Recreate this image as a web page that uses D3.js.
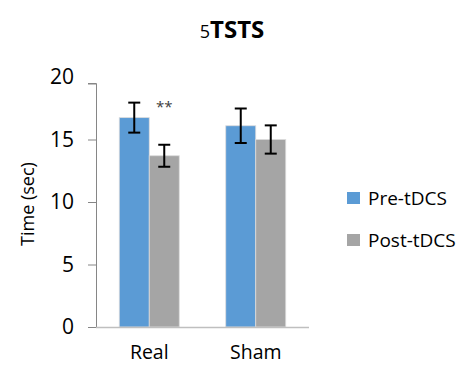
<!DOCTYPE html>
<html><head><meta charset="utf-8">
<script src="https://cdn.jsdelivr.net/npm/d3@7"></script>
<style>body{margin:0;background:#fff}text{font-family:"Open Sans","Noto Sans",sans-serif}</style>
</head><body>
<svg id="c" width="464" height="366"></svg>
<script>
const categories = ["Real", "Sham"];
const seriesNames = ["Pre-tDCS", "Post-tDCS"];
const preValues = [16.75, 16.1];
const postValues = [13.7, 15.0];
const preErrors = [1.2, 1.38];
const postErrors = [0.88, 1.13];
const yTicks = [0, 5, 10, 15, 20];
const colors = ["#5b9bd5", "#a5a5a5"];

const svg = d3.select("#c");
const x = d3.scaleBand().domain(categories).range([96, 309]).paddingInner(0).paddingOuter(0);
const xs = d3.scaleBand().domain(seriesNames).range([0, 60]);
const y = d3.scaleLinear().domain([0, 20]).range([327, 77]);

// y axis
const ya = svg.append("g").attr("transform", "translate(96,0)")
  .call(d3.axisLeft(y).tickValues(yTicks).tickSize(8).tickPadding(14).tickFormat(d3.format("d")));
ya.selectAll("path,line").attr("stroke", "#868686");
ya.select(".domain").attr("d", "M-8,83.5H0.5V327.5");
ya.selectAll(".tick").filter(d => d === 20).select("line").attr("y1", 6.5).attr("y2", 6.5);
ya.selectAll("text").attr("font-size", 21).attr("fill", "#000");

// bars
const data = categories.map((c, i) => ({c, vals: [
  {s: seriesNames[0], v: preValues[i], e: preErrors[i]},
  {s: seriesNames[1], v: postValues[i], e: postErrors[i]}]}));
const g = svg.append("g").selectAll("g").data(data).join("g")
  .attr("transform", d => `translate(${x(d.c) + x.bandwidth()/2 - 30},0)`);
g.selectAll("rect").data(d => d.vals).join("rect")
  .attr("x", d => xs(d.s)).attr("width", xs.bandwidth())
  .attr("y", d => y(d.v)).attr("height", d => y(0) - y(d.v))
  .attr("fill", (d, i) => colors[i]).attr("stroke", "#dcdcdc").attr("stroke-width", 0.8);

// error bars
const eb = g.selectAll("g.eb").data(d => d.vals).join("g").attr("class", "eb")
  .attr("stroke", "#000").attr("stroke-width", 2);
eb.append("line").attr("x1", d => xs(d.s) + 15).attr("x2", d => xs(d.s) + 15)
  .attr("y1", d => y(d.v + d.e)).attr("y2", d => y(d.v - d.e));
eb.append("line").attr("x1", d => xs(d.s) + 9).attr("x2", d => xs(d.s) + 21)
  .attr("y1", d => y(d.v + d.e)).attr("y2", d => y(d.v + d.e));
eb.append("line").attr("x1", d => xs(d.s) + 9).attr("x2", d => xs(d.s) + 21)
  .attr("y1", d => y(d.v - d.e)).attr("y2", d => y(d.v - d.e));

// x axis
const xa = svg.append("g").attr("transform", "translate(0,327)")
  .call(d3.axisBottom(x).tickSize(0).tickPadding(18));
xa.select(".domain").attr("stroke", "#bfbfbf").attr("stroke-width", 1.5).attr("d", "M96,0.5H309");
xa.selectAll("text").attr("dy", null).attr("y", 32).attr("font-size", 19.5).attr("fill", "#000");

// significance
svg.append("text").attr("x", x("Real") + x.bandwidth()/2 + 15).attr("y", y(postValues[0] + postErrors[0]) - 33)
  .attr("text-anchor", "middle").attr("font-size", 15).attr("fill", "#404040").text("**");

// title
const t = svg.append("text").attr("x", 232).attr("y", 38).attr("text-anchor", "middle").attr("fill", "#000");
t.append("tspan").attr("font-size", 18).text("5");
t.append("tspan").attr("font-size", 24).attr("font-weight", "bold").text("TSTS");

// y label
svg.append("text").attr("transform", "translate(34,204) rotate(-90)").attr("text-anchor", "middle")
  .attr("font-size", 18).attr("fill", "#000").text("Time (sec)");

// legend
const lg = svg.append("g").selectAll("g").data(seriesNames).join("g")
  .attr("transform", (d, i) => `translate(347,${192 + i * 42})`);
lg.append("rect").attr("width", 13).attr("height", 12).attr("fill", (d, i) => colors[i]);
lg.append("text").attr("x", 21).attr("y", 13).attr("font-size", 19).attr("fill", "#000").text(d => d);
</script>
</body></html>
